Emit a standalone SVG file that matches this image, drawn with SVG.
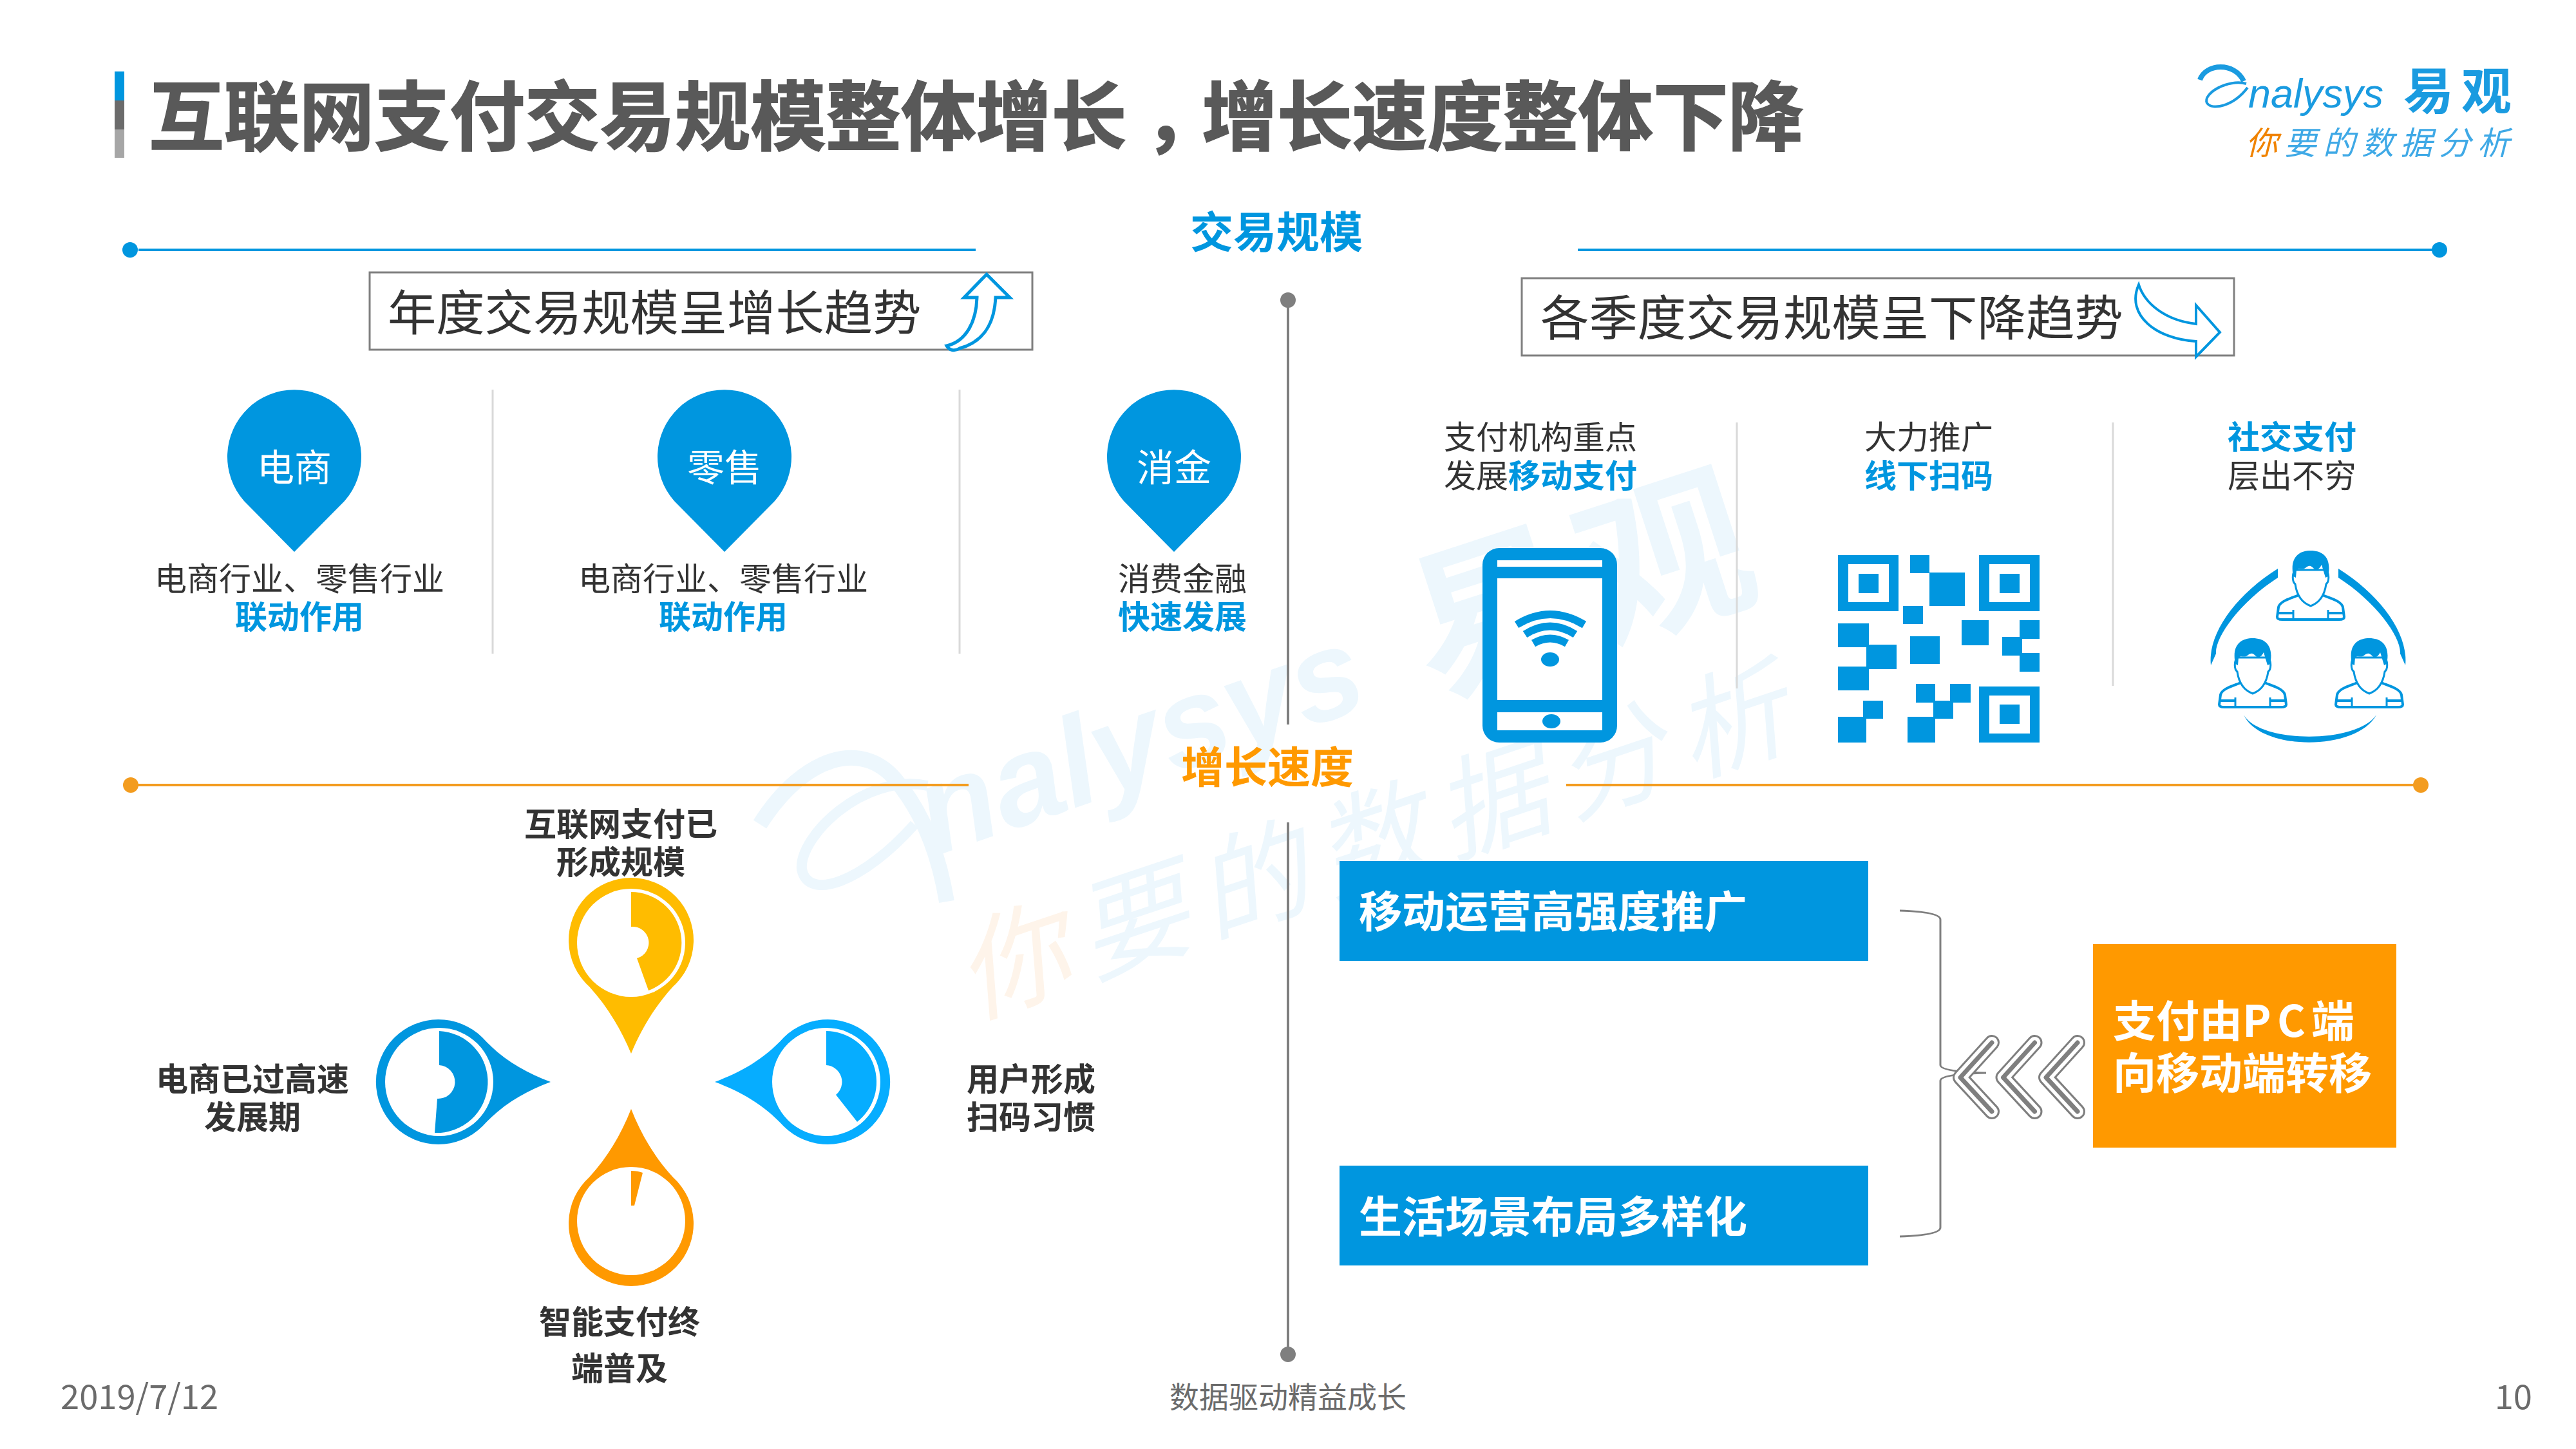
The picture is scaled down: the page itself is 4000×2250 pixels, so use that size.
<svg xmlns="http://www.w3.org/2000/svg" xmlns:xlink="http://www.w3.org/1999/xlink" width="4000" height="2250" viewBox="0 0 4000 2250">
<style>
text{font-family:"Noto Sans CJK SC","Noto Sans",sans-serif}
.t{font-size:50px;fill:#333;text-anchor:middle}
.b{font-weight:700}
.bl{fill:#0096DF}
.k{font-size:50px;fill:#333;text-anchor:middle;font-weight:700}
.w{fill:#fff;font-weight:700;font-size:67px}
.wm{fill:#edf7fd}
.pin{fill:#0096DF}
.pt{font-size:58px;fill:#fff;text-anchor:middle}
.div{stroke:#d9d9d9;stroke-width:3;fill:none}
.qr{fill:#0096DF}
.foot{font-size:52.5px;fill:#6b6b6b}
</style>
<defs>
<g id="person">
<path d="M-52,103 L-50,88 C-48,78 -30,74 -16,68 L16,68 C30,74 48,78 50,88 L52,103 Q52,107 44,107 L-44,107 Q-52,107 -52,103Z" fill="#fff" stroke="#0096DF" stroke-width="4"/>
<path d="M-16,70 Q0,92 16,70" fill="none" stroke="#0096DF" stroke-width="6"/>
<path d="M-16,72 Q0,80 16,72" fill="none" stroke="#0096DF" stroke-width="3"/>
<path d="M-27,92 V106 M27,92 V106" stroke="#0096DF" stroke-width="3"/>
<path d="M-52,97 H-27 M27,97 H52" stroke="#0096DF" stroke-width="4"/>
<path d="M-24,30 C-29,36 -29,48 -24,52 C-22,66 -16,80 0,86 C16,80 22,66 24,52 C29,48 29,36 24,30Z" fill="#fff" stroke="#0096DF" stroke-width="3"/>
<path d="M-27,40 C-33,10 -18,0 0,0 C20,0 33,12 27,40 L23,42 L17,22 C13,30 8,32 3,26 C-3,21 -6,26 -10,28 C-16,30 -18,26 -22,30 L-23,42Z" fill="#0096DF"/>
</g>
<path id="chev" d="M3093,1619 L3044,1673 L3093,1726" fill="none" stroke-linecap="round" stroke-linejoin="round"/>
<g id="chev3">
<use xlink:href="#chev" stroke="#7f7f7f" stroke-width="24"/>
<use xlink:href="#chev" stroke="#fff" stroke-width="18"/>
<use xlink:href="#chev" stroke="#7f7f7f" stroke-width="7"/>
</g>
</defs>
<rect width="4000" height="2250" fill="#fff"/>
<g id="watermark">
<path d="M1180,1280 C1250,1170 1340,1150 1390,1210 C1440,1270 1460,1340 1470,1400" fill="none" stroke="#edf7fd" stroke-width="24"/>
<path d="M1440,1220 C1340,1200 1240,1300 1245,1350 C1255,1400 1340,1370 1420,1280" fill="none" stroke="#edf7fd" stroke-width="16"/>
<text class="wm" x="1450" y="1330" font-size="196" font-weight="700" font-style="italic" transform="rotate(-19 1450 1330)" style="font-family:'Liberation Sans',sans-serif">nalysys</text>
<text class="wm" x="2225" y="1085" font-size="265" font-weight="700" letter-spacing="12" transform="rotate(-18 2225 1085)">易观</text>
<text x="1510" y="1580" font-size="172" font-style="italic" letter-spacing="24" transform="rotate(-18.5 1510 1580)"><tspan fill="#fef4ea">你</tspan><tspan class="wm">要的数据分析</tspan></text>
</g>
<g id="title">
<rect x="178" y="111" width="15" height="45" fill="#0096DF"/>
<rect x="178" y="156" width="15" height="45" fill="#6b6b6b"/>
<rect x="178" y="201" width="15" height="44" fill="#a6a6a6"/>
<text x="231" y="224" font-size="116.8" font-weight="700" fill="#595959" stroke="#595959" stroke-width="2">互联网支付交易规模整体增长<tspan dx="28">，</tspan><tspan dx="-28">增长速度整体下降</tspan></text>
</g>
<g id="logo">
<path d="M3416,124 C3425,98 3470,96 3484,126" fill="none" stroke="#1a9be0" stroke-width="8"/>
<path d="M3488,130 C3460,122 3420,145 3427,160 C3435,172 3468,165 3490,136" fill="none" stroke="#1a9be0" stroke-width="4"/>
<text x="3491" y="167" font-size="63" font-style="italic" fill="#1a9be0" style="font-family:'Liberation Sans',sans-serif">nalysys</text>
<text x="3732" y="170" font-size="78" font-weight="700" letter-spacing="12" fill="#1a9be0">易观</text>
<text x="3487" y="240" font-size="50" font-style="italic" letter-spacing="10"><tspan fill="#f08300">你</tspan><tspan fill="#3fa9e6">要的数据分析</tspan></text>
</g>
<g id="connectors" fill="none">
<path d="M215,388 H1515" stroke="#0096DF" stroke-width="4"/>
<path d="M2450,388 H3788" stroke="#0096DF" stroke-width="4"/>
<path d="M203,1219 H1504" stroke="#F39C1F" stroke-width="4"/>
<path d="M2432,1219 H3759" stroke="#F39C1F" stroke-width="4"/>
<circle cx="202" cy="388" r="12" fill="#0096DF"/>
<circle cx="3788" cy="388" r="12" fill="#0096DF"/>
<circle cx="203" cy="1219" r="12" fill="#F39C1F"/>
<circle cx="3759" cy="1219" r="12" fill="#F39C1F"/>
<path d="M2000,466 V1125 M2000,1277 V2103" stroke="#7f7f7f" stroke-width="4"/>
<circle cx="2000" cy="466" r="12" fill="#7f7f7f"/>
<circle cx="2000" cy="2103" r="12" fill="#7f7f7f"/>
<path class="div" d="M765,605 V1015 M1490,605 V1015 M2697,656 V1069 M3281,656 V1065"/>
<path d="M2950,1414 Q3013,1416 3013,1428 V1654 Q3013,1664 3084,1666 Q3013,1668 3013,1678 V1906 Q3013,1918 2950,1920" stroke="#7f7f7f" stroke-width="3"/>
<use xlink:href="#chev3"/>
<use xlink:href="#chev3" x="66.5"/>
<use xlink:href="#chev3" x="133"/>
</g>
<g id="heading-scale"><text x="1848" y="385" font-size="67" font-weight="700" fill="#0096DF">交易规模</text></g>
<g id="heading-speed"><text x="1834" y="1216" font-size="67" font-weight="700" fill="#FF9900">增长速度</text></g>
<g id="box-annual">
<rect x="574" y="423" width="1029" height="120" fill="#fff" stroke="#7f7f7f" stroke-width="3"/>
<text x="602" y="513" font-size="75.3" fill="#333">年度交易规模呈增长趋势</text>
<path d="M1532,426 L1568,462 H1546 C1544,500 1530,530 1490,541 C1482,546 1474,544 1470,537 C1500,530 1516,500 1517,462 H1497Z" fill="#fff" stroke="#0096DF" stroke-width="5"/>
</g>
<g id="box-quarter">
<rect x="2363" y="432" width="1106" height="120" fill="#fff" stroke="#7f7f7f" stroke-width="3"/>
<text x="2392" y="521" font-size="75.4" fill="#333">各季度交易规模呈下降趋势</text>
<path d="M3321,442 C3330,470 3360,497 3410,503 V474 L3447,516 L3410,554 V530 C3350,527 3300,490 3321,442Z" fill="#fff" stroke="#0096DF" stroke-width="4"/>
</g>
<g id="node-ecommerce">
<path class="pin" d="M379,778 A104,104 0 1 1 535,778 L457,857Z"/>
<text class="pt" x="457" y="747">电商</text>
<text class="t" x="465" y="917">电商行业、零售行业</text>
<text class="t b bl" x="465" y="976">联动作用</text>
</g>
<g id="node-retail">
<path class="pin" d="M1047,778 A104,104 0 1 1 1203,778 L1125,857Z"/>
<text class="pt" x="1125" y="747">零售</text>
<text class="t" x="1123" y="917">电商行业、零售行业</text>
<text class="t b bl" x="1123" y="976">联动作用</text>
</g>
<g id="node-finance">
<path class="pin" d="M1745,778 A104,104 0 1 1 1901,778 L1823,857Z"/>
<text class="pt" x="1823" y="747">消金</text>
<text class="t" x="1836" y="917">消费金融</text>
<text class="t b bl" x="1836" y="976">快速发展</text>
</g>
<g id="node-mobile">
<text class="t" x="2392" y="697">支付机构重点</text>
<text class="t" x="2392" y="757">发展<tspan class="b bl">移动支付</tspan></text>
<rect x="2302" y="851" width="209" height="302" rx="26" fill="#0096DF"/>
<rect x="2325" y="870" width="163" height="10" fill="#fff"/>
<rect x="2325" y="898" width="163" height="189" fill="#fff"/>
<rect x="2325" y="1106" width="163" height="28" fill="#fff"/>
<ellipse cx="2409" cy="1120" rx="14" ry="11" fill="#0096DF"/>
<ellipse cx="2407" cy="1024" rx="14" ry="11" fill="#0096DF"/>
<path d="M2355,970 Q2407,938 2460,970 M2368,985 Q2407,960 2446,985 M2381,999 Q2407,984 2433,999" fill="none" stroke="#0096DF" stroke-width="12"/>
</g>
<g id="node-qr">
<text class="t" x="2995" y="697">大力推广</text>
<text class="t b bl" x="2995" y="757">线下扫码</text>
<path class="qr" d="M2854,862h94v87h-94z M3073,862h94v87h-94z M3073,1066h94v87h-94z"/>
<path fill="#fff" d="M2870,876h63v59h-63z M3089,876h63v59h-63z M3089,1080h63v59h-63z"/>
<path class="qr" d="M2886,891h31v30h-31z M3105,891h31v30h-31z M3105,1094h31v30h-31z
M2966,862h30v28h-30z M2996,889h55v52h-55z M2955,941h31v28h-31z M2854,968h48v37h-48z M2898,1001h47v38h-47z M2854,1035h48v37h-48z M2966,988h46v43h-46z M3046,963h42v39h-42z M3136,963h31v29h-31z M3109,989h31v29h-31z M3136,1014h31v29h-31z M2975,1062h30v29h-30z M3028,1062h32v29h-32z M3002,1088h31v28h-31z M2975,1088h85v3h-85z M2962,1113h43v40h-43z M2893,1088h31v28h-31z M2854,1113h44v40h-44z"/>
</g>
<g id="node-social">
<text class="t b bl" x="3559" y="697">社交支付</text>
<text class="t" x="3559" y="757">层出不穷</text>
<path class="qr" d="M3537,883 C3470,925 3428,985 3433,1033 L3441,1015 C3439,990 3478,935 3537,897Z"/>
<path class="qr" d="M3631,883 C3698,925 3740,985 3735,1033 L3727,1015 C3729,990 3690,935 3631,897Z"/>
<path class="qr" d="M3484,1110 C3510,1167 3660,1167 3690,1110 C3660,1155 3510,1155 3484,1110Z"/>
<use xlink:href="#person" x="3588" y="855"/>
<use xlink:href="#person" x="3498" y="991"/>
<use xlink:href="#person" x="3679" y="991"/>
</g>
<g id="node-gauge-top">
<text class="k" x="964" y="1298">互联网支付已</text>
<text class="k" x="964" y="1357">形成规模</text>
<path fill="#FFBC00" d="M915,1532 A97,97 0 1 1 1045,1532 C1015,1565 995,1600 980,1636 C965,1600 945,1565 915,1532Z"/>
<circle cx="980" cy="1464" r="84" fill="#fff"/>
<path fill="#FFBC00" d="M980,1385 A79,79 0 0 1 1007,1538 L989,1488 A25,25 0 0 0 980,1439Z"/>
</g>
<g id="node-gauge-left">
<text class="k" x="392" y="1694">电商已过高速</text>
<text class="k" x="392" y="1753">发展期</text>
<path fill="#0096DF" d="M749,1611 A97,97 0 1 0 749,1749 C780,1715 815,1695 855,1680 C815,1665 780,1645 749,1611Z"/>
<circle cx="682" cy="1680" r="84" fill="#fff"/>
<path fill="#0096DF" d="M682,1601 A79,79 0 0 1 675,1759 L679,1706 A26,26 0 0 0 682,1654Z"/>
</g>
<g id="node-gauge-right">
<text class="k" x="1601" y="1694">用户形成</text>
<text class="k" x="1601" y="1753">扫码习惯</text>
<path fill="#06ADFF" d="M1217,1611 A97,97 0 1 1 1217,1749 C1186,1715 1150,1695 1110,1680 C1150,1665 1186,1645 1217,1611Z"/>
<circle cx="1283" cy="1680" r="84" fill="#fff"/>
<path fill="#06ADFF" d="M1283,1601 A79,79 0 0 1 1331,1742 L1298,1700 A26,26 0 0 0 1283,1654Z"/>
</g>
<g id="node-gauge-bottom">
<text class="k" x="962" y="2071">智能支付终</text>
<text class="k" x="962" y="2143">端普及</text>
<path fill="#FF9900" d="M915,1828 A97,97 0 1 0 1045,1828 C1015,1795 995,1760 980,1722 C965,1760 945,1795 915,1828Z"/>
<circle cx="980" cy="1896" r="84" fill="#fff"/>
<path fill="#FF9900" d="M980,1818 Q990,1818 998,1821 L985,1872 H980Z"/>
</g>
<g id="node-push">
<rect x="2080" y="1337" width="821" height="155" fill="#0096DF"/>
<text class="w" x="2110" y="1440">移动运营高强度推广</text>
</g>
<g id="node-life">
<rect x="2080" y="1810" width="821" height="155" fill="#0096DF"/>
<text class="w" x="2110" y="1914">生活场景布局多样化</text>
</g>
<g id="node-shift">
<rect x="3250" y="1466" width="471" height="316" fill="#FF9900"/>
<text class="w" x="3281" y="1610">支付由<tspan letter-spacing="-3">P C </tspan>端</text>
<text class="w" x="3281" y="1691">向移动端转移</text>
</g>
<g id="footer">
<text class="foot" x="94" y="2188">2019/7/12</text>
<text x="2000" y="2186" font-size="46" fill="#6b6b6b" text-anchor="middle">数据驱动精益成长</text>
<text class="foot" x="3932" y="2188" text-anchor="end">10</text>
</g>
</svg>
